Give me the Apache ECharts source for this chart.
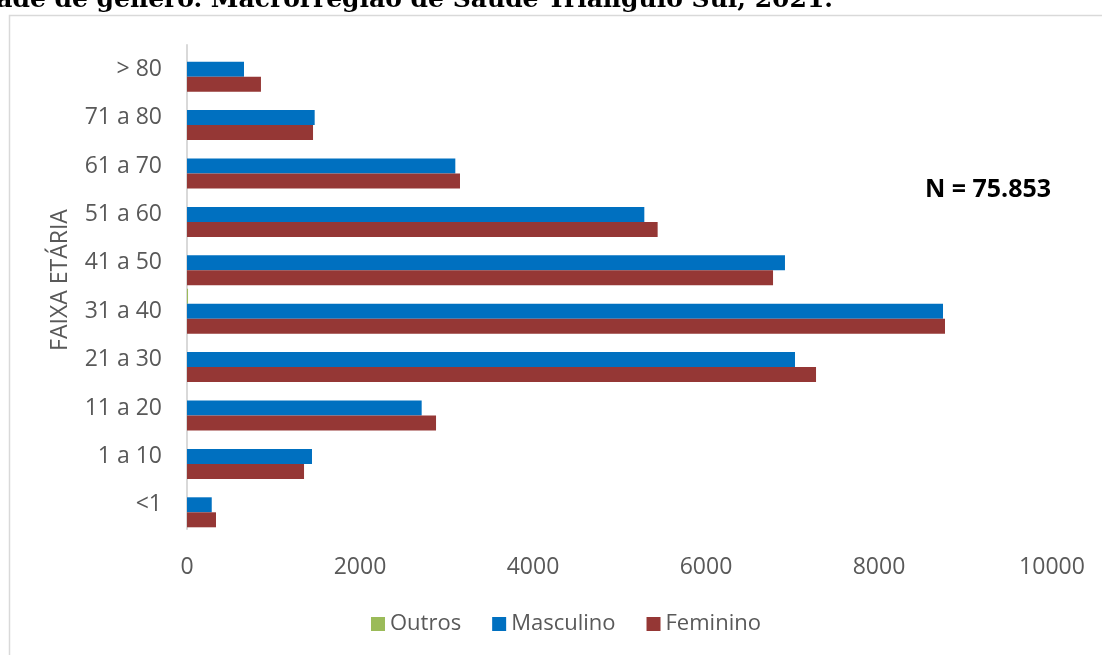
<!DOCTYPE html>
<html>
<head>
<meta charset="utf-8">
<script src="https://cdn.jsdelivr.net/npm/echarts@6/dist/echarts.min.js"></script>
<style>
  html, body { margin: 0; padding: 0; background: #fff; }
  #chart { width: 1102px; height: 655px; }
</style>
</head>
<body>
<div id="chart"></div>
<script>
// Age bands, bottom to top
const faixas = ['<1', '1 a 10', '11 a 20', '21 a 30', '31 a 40', '41 a 50', '51 a 60', '61 a 70', '71 a 80', '> 80'];
const outros = [0, 0, 0, 0, 12, 0, 0, 0, 0, 0];
const masculino = [286, 1445, 2713, 7029, 8740, 6913, 5287, 3102, 1476, 659];
const feminino = [335, 1353, 2879, 7272, 8763, 6775, 5441, 3156, 1457, 855];
const xTicks = [0, 2000, 4000, 6000, 8000, 10000];
const eixoY = 'FAIXA ETÁRIA';
const totalLabel = 'N = 75.853';
const tituloParcial = 'idade de gênero. Macrorregião de Saúde Triângulo Sul, 2021.';

const font = '"Open Sans", "Liberation Sans", sans-serif';
const grey = '#595959';

const chart = echarts.init(document.getElementById('chart'), null, { renderer: 'canvas' });

chart.setOption({
  animation: false,
  backgroundColor: '#ffffff',
  grid: { left: 187, right: 50, top: 45, bottom: 126, containLabel: false },
  legend: {
    data: ['Outros', 'Masculino', 'Feminino'],
    left: 366,
    top: 608,
    icon: 'rect',
    itemWidth: 14,
    itemHeight: 14,
    itemGap: 31,
    textStyle: { fontFamily: font, fontSize: 22, color: grey }
  },
  xAxis: {
    type: 'value',
    min: xTicks[0],
    max: xTicks[xTicks.length - 1],
    interval: xTicks[1] - xTicks[0],
    axisLine: { show: false },
    axisTick: { show: false },
    splitLine: { show: false },
    axisLabel: { fontFamily: font, fontSize: 23, color: grey, margin: 27, formatter: v => String(v) }
  },
  yAxis: {
    type: 'category',
    data: faixas,
    axisLine: { show: true, lineStyle: { color: '#d9d9d9', width: 2 } },
    axisTick: { show: false },
    axisLabel: { fontFamily: font, fontSize: 23, color: grey, margin: 25 }
  },
  series: [
    { name: 'Outros', type: 'bar', data: outros, barWidth: 15, barGap: '0%', itemStyle: { color: '#9bbb59' } },
    { name: 'Masculino', type: 'bar', data: masculino, barWidth: 15, barGap: '0%', itemStyle: { color: '#0070c0' } },
    { name: 'Feminino', type: 'bar', data: feminino, barWidth: 15, barGap: '0%', itemStyle: { color: '#953735' } }
  ],
  graphic: [
    {
      type: 'rect', silent: true, z: -1,
      shape: { x: 9.5, y: 15.5, width: 1200, height: 800 },
      style: { fill: 'none', stroke: '#d9d9d9', lineWidth: 1.5 }
    },
    {
      type: 'text', silent: true,
      style: {
        x: 833, y: 13, text: tituloParcial, align: 'right', verticalAlign: 'bottom',
        fontFamily: '"DejaVu Serif", "Liberation Serif", serif', fontWeight: 'bold', fontSize: 25, fill: '#000'
      }
    },
    {
      type: 'text', silent: true,
      x: 60, y: 280, rotation: Math.PI / 2,
      style: {
        x: 0, y: 0, text: eixoY, align: 'center', verticalAlign: 'middle',
        fontFamily: font, fontSize: 23, fill: grey
      }
    },
    {
      type: 'text', silent: true,
      style: {
        x: 988, y: 190, text: totalLabel, align: 'center', verticalAlign: 'middle',
        fontFamily: font, fontWeight: 'bold', fontSize: 25, fill: '#000'
      }
    }
  ]
});
</script>
</body>
</html>
